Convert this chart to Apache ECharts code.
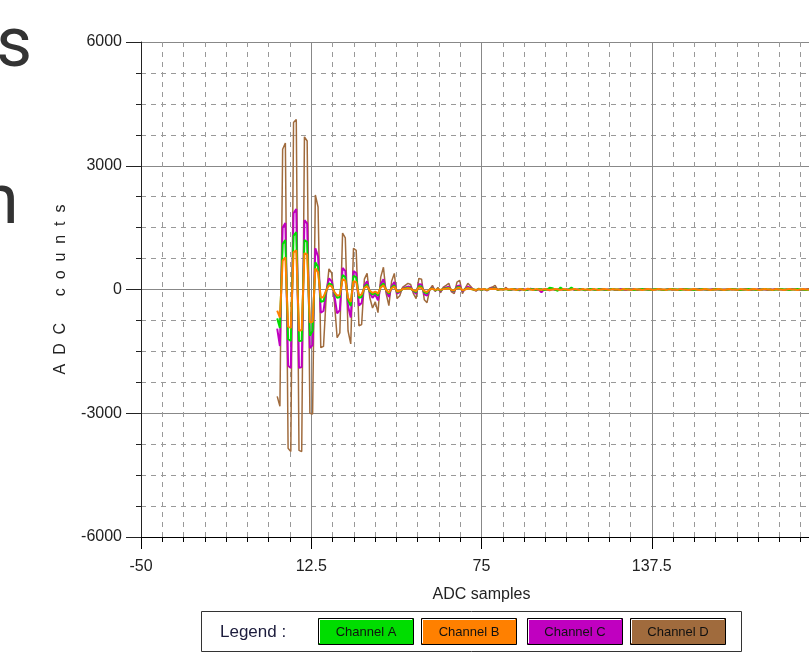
<!doctype html>
<html>
<head>
<meta charset="UTF-8"/>
<title>ADC samples</title>
<script src="https://cdn.jsdelivr.net/npm/echarts@6/dist/echarts.min.js"></script>
<style>
html,body{margin:0;padding:0;background:#fff;overflow:hidden;}
#chart{width:835px;height:656px;}
</style>
</head>
<body>
<div id="chart"></div>
<script>
// ADC counts per sample (sample 0 .. 200)
var chA = [
  -700,-930,1100,1200,-1200,-1250,1300,1390,
  -1250,-1240,1200,1150,-1120,-1000,660,550,
  -300,-280,-30,150,120,-80,-200,-180,
  350,300,-250,-400,330,300,-200,-180,
  60,120,-50,-120,-80,-150,80,150,
  -20,-100,50,100,-60,-40,10,30,
  40,30,-30,-60,80,70,-70,-90,
  0,30,-20,10,-20,20,30,40,
  -20,-30,50,60,-30,10,40,20,
  0,-10,10,-10,10,-10,10,20,
  30,-10,10,0,10,-10,
  0,10,-10,0,10,-20,0,10,0,-10,
  10,0,-10,0,40,30,0,-30,50,0,
  -10,0,50,0,-10,10,0,-10,0,10,
  0,-10,10,0,0,-10,0,10,0,0,
  -10,0,10,0,0,-10,0,0,10,0,
  0,-10,0,10,0,0,-10,0,0,10,
  0,0,-10,0,10,0,0,-10,0,0,
  10,0,0,-10,0,10,0,0,-10,0,
  0,10,0,0,-10,0,0,10,0,0,
  -10,0,0,10,0,0,-10,0,0,10,
  0,0,-10,0,0,10,0,0,-10,0,
  0,10,0,0,-10
];
var chB = [
  -510,-680,700,780,-900,-930,900,950,
  -1000,-980,880,850,-800,-780,510,420,
  -200,-180,-20,100,80,-60,-150,-130,
  250,220,-200,-300,200,180,-150,-120,
  40,80,-30,-80,-50,-100,50,100,
  -10,-70,30,70,-40,-30,10,20,
  30,20,-20,-40,50,40,-40,-60,
  0,20,-10,10,-10,10,20,30,
  -10,-20,30,40,-20,0,30,10,
  0,-10,10,0,10,-10,10,10,
  20,0,0,0,10,0,
  10,0,-10,10,0,-10,20,0,-10,10,
  0,-10,10,0,-10,0,10,0,-10,10,
  0,-10,0,10,0,-10,10,0,0,-10,
  10,0,-10,0,10,0,-10,10,0,0,
  -10,10,0,0,-10,10,0,0,-10,0,
  10,0,-10,0,10,0,0,-10,10,0,
  0,-10,10,0,0,-10,0,10,0,-10,
  0,10,0,-10,0,0,10,0,-10,0,
  10,0,0,-10,10,0,0,-10,0,10,
  0,-10,0,10,0,0,-10,10,0,0,
  -10,0,10,0,0,-10,0,10,0,0,
  -10,0,10,0,0
];
var chC = [
  -950,-1370,1500,1610,-1850,-1900,1850,1950,
  -1900,-1880,1680,1600,-1420,-1350,1000,800,
  -560,-520,-50,270,200,-150,-580,-500,
  520,450,-400,-680,450,400,-390,-330,
  100,200,-80,-200,-120,-260,120,250,
  -40,-180,80,180,-100,-60,20,50,
  70,60,-50,-100,130,120,-120,-150,
  0,50,-30,20,-40,30,50,70,
  -30,-50,80,100,-50,10,70,40,
  0,-20,10,-10,10,-20,20,30,
  40,-10,10,0,20,-10,
  -10,10,0,-20,10,0,-10,20,0,-10,
  0,-70,10,0,-20,10,0,-10,0,10,
  -10,0,20,-10,0,0,10,-20,0,10,
  0,-10,0,10,-10,0,0,10,0,-10,
  10,0,-10,0,0,10,-10,0,0,10,
  0,-10,0,0,10,0,-10,0,10,0,
  0,-10,0,10,0,0,-10,0,0,10,
  0,0,-10,0,10,0,0,-10,0,0,
  10,0,0,-10,0,0,10,0,-10,0,
  0,10,0,0,-10,0,0,10,0,0,
  -10,0,0,10,0,0,-10,0,0,10,
  0,0,-10,0,0
];
var chD = [
  -2590,-2830,3400,3550,-3850,-3930,4050,4120,
  -3900,-3930,3700,3600,-3000,-3020,2290,2000,
  -1410,-1380,-150,500,400,-300,-1170,-1050,
  1370,1250,-1000,-1320,1000,950,-880,-850,
  250,390,-200,-450,-300,-560,300,540,
  -100,-390,200,390,-220,-150,50,100,
  150,120,-100,-220,270,250,-250,-320,
  0,100,-50,50,-80,60,100,150,
  -60,-100,180,220,-100,30,150,80,
  0,-40,30,-20,20,-30,40,60,
  100,-20,20,0,50,-20,
  0,20,-10,10,0,-20,10,0,20,-10,
  0,10,-10,0,20,0,-10,10,0,-20,
  10,0,0,20,-10,0,10,-10,0,0,
  20,-10,0,10,0,-10,0,10,-20,0,
  10,0,-10,20,0,0,-10,10,0,0,
  -10,10,0,0,20,-10,0,0,10,-10,
  0,0,10,0,-10,0,0,10,0,-10,
  0,10,0,0,-10,0,10,0,0,-10,
  0,0,10,0,0,-10,0,0,10,0,
  -10,0,0,10,0,0,-10,0,0,10,
  0,0,-10,0,10,0,0,-10,0,0,
  10,0,0,-10,0
];
var channelNames = ['Channel A', 'Channel B', 'Channel C', 'Channel D'];
var channelColors = ['#00dd00', '#ff8000', '#c000c0', '#a06b3d'];

var samples = [];
for (var i = 0; i < chA.length; i++) samples.push(i);
function pairs(arr) {
  return samples.map(function (s, i) { return [s, arr[i]]; });
}

var myChart = echarts.init(document.getElementById('chart'));

var font = 'Liberation Sans';
var legendGraphics = [
  { type: 'rect', shape: { x: 201.5, y: 611.5, width: 540, height: 40 },
    style: { fill: '#fff', stroke: '#333', lineWidth: 1 } },
  { type: 'text', style: { text: 'Legend :', x: 220, y: 632, font: '17px ' + font,
    fill: '#1c1c3c', textVerticalAlign: 'middle', verticalAlign: 'middle' } }
];
var boxX = [318, 421, 527, 630];
channelNames.forEach(function (nm, k) {
  legendGraphics.push({ type: 'rect', shape: { x: boxX[k] + 0.5, y: 618.5, width: 95, height: 26 },
    style: { fill: channelColors[k], stroke: '#000', lineWidth: 1 } });
  legendGraphics.push({ type: 'polyline', shape: { points: [[boxX[k] + 1.5, 643], [boxX[k] + 1.5, 619.5], [boxX[k] + 94, 619.5]] },
    style: { stroke: '#fff', lineWidth: 1, fill: null } });
  legendGraphics.push({ type: 'text', style: { text: nm, x: boxX[k] + 48, y: 632, font: '13px ' + font,
    fill: '#111', textAlign: 'center', align: 'center', textVerticalAlign: 'middle', verticalAlign: 'middle' } });
});

var option = {
  backgroundColor: '#fff',
  animation: false,
  grid: { left: 141, top: 42, right: 13, bottom: 119, containLabel: false },
  xAxis: {
    type: 'value',
    min: -50, max: 200, interval: 62.5,
    name: 'ADC samples', nameLocation: 'middle', nameGap: 50,
    nameTextStyle: { fontSize: 16, color: '#222', fontFamily: font },
    axisLine: { show: true, onZero: false, lineStyle: { color: '#000', width: 1 } },
    axisTick: { show: true, length: 12, lineStyle: { color: '#000' } },
    minorTick: { show: true, splitNumber: 8, length: 5, lineStyle: { color: '#000' } },
    axisLabel: { fontSize: 16, color: '#222', fontFamily: font, margin: 22, showMaxLabel: false },
    splitLine: { show: true, lineStyle: { color: '#888', width: 1 } },
    minorSplitLine: { show: true, lineStyle: { color: '#999', width: 1, type: [5, 5] } }
  },
  yAxis: {
    type: 'value',
    min: -6000, max: 6000, interval: 3000,
    name: 'A  D  C      c  o  u  n  t  s', nameLocation: 'middle', nameGap: 72,
    nameTextStyle: { fontSize: 16, color: '#222', fontFamily: font },
    axisLine: { show: true, onZero: false, lineStyle: { color: '#222', width: 1 } },
    axisTick: { show: true, length: 15, lineStyle: { color: '#222' } },
    minorTick: { show: true, splitNumber: 4, length: 5, lineStyle: { color: '#222' } },
    axisLabel: { fontSize: 16, color: '#222', fontFamily: font, margin: 19,
      formatter: function (v) { return String(v); } },
    splitLine: { show: true, lineStyle: { color: '#888', width: 1 } },
    minorSplitLine: { show: true, lineStyle: { color: '#999', width: 1, type: [5, 5] } }
  },
  graphic: [
    { type: 'text', style: { text: 's', x: -4, y: 48, font: '70px Roboto', fill: '#333',
      textVerticalAlign: 'middle', verticalAlign: 'middle' } },
    { type: 'text', style: { text: 'n', x: -20, y: 205, font: '70px Roboto', fill: '#333',
      textVerticalAlign: 'middle', verticalAlign: 'middle' } }
  ].concat(legendGraphics),
  series: [
    { name: channelNames[3], type: 'line', data: pairs(chD), showSymbol: false, clip: true,
      lineStyle: { color: channelColors[3], width: 1.5 }, itemStyle: { color: channelColors[3] } },
    { name: channelNames[2], type: 'line', data: pairs(chC), showSymbol: false, clip: true,
      lineStyle: { color: channelColors[2], width: 2 }, itemStyle: { color: channelColors[2] } },
    { name: channelNames[0], type: 'line', data: pairs(chA), showSymbol: false, clip: true,
      lineStyle: { color: channelColors[0], width: 2 }, itemStyle: { color: channelColors[0] } },
    { name: channelNames[1], type: 'line', data: pairs(chB), showSymbol: false, clip: true,
      lineStyle: { color: channelColors[1], width: 2 }, itemStyle: { color: channelColors[1] } }
  ]
};

myChart.setOption(option);
</script>
</body>
</html>
